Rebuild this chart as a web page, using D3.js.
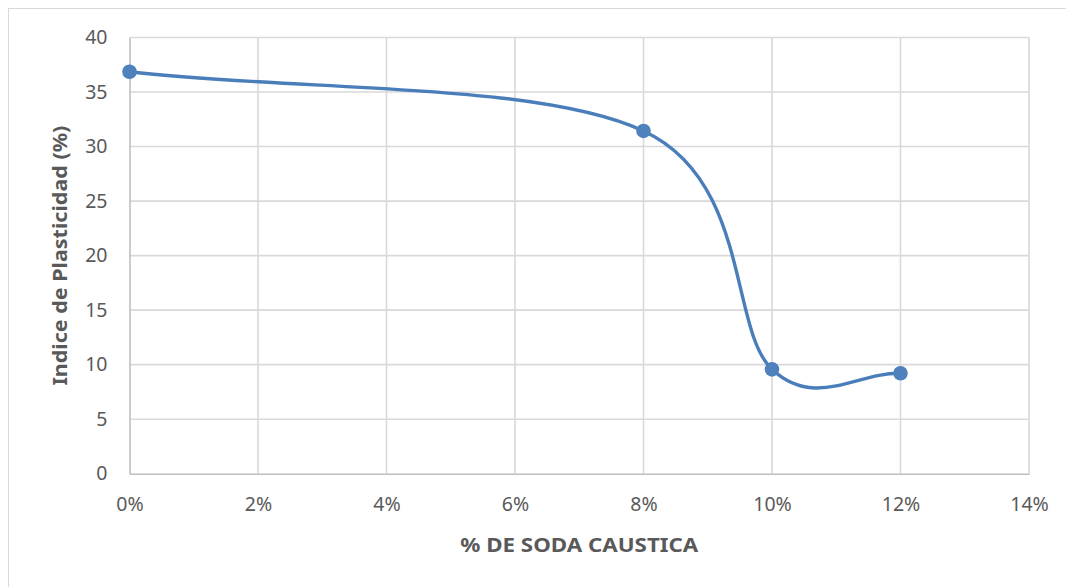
<!DOCTYPE html>
<html>
<head>
<meta charset="utf-8">
<script src="https://cdn.jsdelivr.net/npm/d3@7"></script>
<style>
  html, body { margin: 0; padding: 0; background: #fff; }
  svg { display: block; }
</style>
</head>
<body>
<svg id="chart" width="1066" height="587"></svg>
<script>
// ---- data ----
const sodaPct = [0.00, 0.08, 0.10, 0.12];
const plasticityIndex = [36.86, 31.43, 9.57, 9.21];
const xTicks = [0, 0.02, 0.04, 0.06, 0.08, 0.10, 0.12, 0.14];
const yTicks = [0, 5, 10, 15, 20, 25, 30, 35, 40];
const xTitle = "% DE SODA CAUSTICA";
const yTitle = "Indice de Plasticidad (%)";

const svg = d3.select("#chart");
const font = "'Noto Sans', 'Liberation Sans', sans-serif";
const textColor = "#595959";

// chart border
svg.append("rect")
  .attr("x", 8.5).attr("y", 8.5)
  .attr("width", 1070).attr("height", 600)
  .attr("fill", "#fff")
  .attr("stroke", "#d9d9d9").attr("stroke-width", 1);

const plot = { left: 129.5, right: 1029, top: 37.5, bottom: 473.7 };

const x = d3.scaleLinear().domain([0, 0.14]).range([plot.left, plot.right]);
const y = d3.scaleLinear().domain([0, 40]).range([plot.bottom, plot.top]);

// gridlines
svg.append("g")
  .selectAll("line").data(yTicks.filter(d => d > 0)).join("line")
  .attr("x1", plot.left).attr("x2", plot.right)
  .attr("y1", d => y(d)).attr("y2", d => y(d))
  .attr("stroke", "#d9d9d9").attr("stroke-width", 1.6);
svg.append("g")
  .selectAll("line").data(xTicks.filter(d => d > 0)).join("line")
  .attr("y1", plot.top).attr("y2", plot.bottom)
  .attr("x1", d => x(d)).attr("x2", d => x(d))
  .attr("stroke", "#d9d9d9").attr("stroke-width", 1.6);

// axes
const xAxis = svg.append("g").attr("transform", `translate(0,${plot.bottom})`)
  .call(d3.axisBottom(x).tickValues(xTicks).tickSize(0).tickPadding(23)
    .tickFormat(d => Math.round(d * 100) + "%"));
xAxis.select(".domain").attr("stroke", "#bfbfbf").attr("stroke-width", 1.6);
xAxis.selectAll("text").attr("fill", textColor).style("font-family", font).style("font-size", "19.5px");

const yAxis = svg.append("g").attr("transform", `translate(${plot.left},0)`)
  .call(d3.axisLeft(y).tickValues(yTicks).tickSize(0).tickPadding(22));
yAxis.select(".domain").attr("stroke", "#bfbfbf").attr("stroke-width", 1.6);
yAxis.selectAll("text").attr("fill", textColor).style("font-family", font).style("font-size", "19.5px");

// series: Excel-style smoothed line (cubic Bezier in data space, drawn via scales)
const pts = sodaPct.map((d, i) => [d, plasticityIndex[i]]);
function smoothPath(p) {
  const path = d3.path();
  const n = p.length;
  const tan = p.map((d, i) => {
    if (i === 0) return [(p[1][0] - p[0][0]) / 3, (p[1][1] - p[0][1]) / 3];
    if (i === n - 1) return [(p[n-1][0] - p[n-2][0]) / 3, (p[n-1][1] - p[n-2][1]) / 3];
    return [(p[i+1][0] - p[i-1][0]) / 6, (p[i+1][1] - p[i-1][1]) / 6];
  });
  path.moveTo(x(p[0][0]), y(p[0][1]));
  for (let i = 0; i < n - 1; i++) {
    const c1 = [p[i][0] + tan[i][0], p[i][1] + tan[i][1]];
    const c2 = [p[i+1][0] - tan[i+1][0], p[i+1][1] - tan[i+1][1]];
    path.bezierCurveTo(x(c1[0]), y(c1[1]), x(c2[0]), y(c2[1]), x(p[i+1][0]), y(p[i+1][1]));
  }
  return path.toString();
}
svg.append("path")
  .attr("d", smoothPath(pts))
  .attr("fill", "none")
  .attr("stroke", "#4a7ebb")
  .attr("stroke-width", 3.4)
  .attr("stroke-linecap", "round");

svg.append("g").selectAll("circle").data(pts).join("circle")
  .attr("cx", d => x(d[0])).attr("cy", d => y(d[1]))
  .attr("r", 7.3)
  .attr("fill", "#4f81bd");

// titles
svg.append("text")
  .attr("x", (plot.left + plot.right) / 2).attr("y", 552)
  .attr("text-anchor", "middle")
  .attr("fill", textColor)
  .style("font-family", font).style("font-weight", "bold").style("font-size", "20px")
  .attr("textLength", 238).attr("lengthAdjust", "spacingAndGlyphs")
  .text(xTitle);

svg.append("text")
  .attr("transform", `translate(67,${(plot.top + plot.bottom) / 2}) rotate(-90)`)
  .attr("text-anchor", "middle")
  .attr("fill", textColor)
  .style("font-family", font).style("font-weight", "bold").style("font-size", "20px")
  .attr("textLength", 260).attr("lengthAdjust", "spacingAndGlyphs")
  .text(yTitle);
</script>
</body>
</html>
